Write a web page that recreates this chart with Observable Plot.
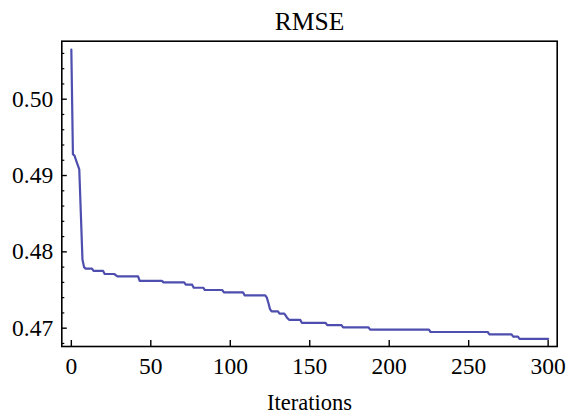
<!DOCTYPE html>
<html><head><meta charset="utf-8">
<script src="https://cdn.jsdelivr.net/npm/d3@7"></script>
<script src="https://cdn.jsdelivr.net/npm/@observablehq/plot@0.6"></script>
<style>body{margin:0;background:#fff;}</style>
</head><body><div id="chart"></div>
<script>
const iterations = [0,1,2,3,4,5,6,7,8,9,13,14,20,21,27,29,42,43,57,58,71,72,76,77,83,84,95,96,108,109,122,123,124,125,126,130,131,134,135,136,137,144,145,160,161,170,171,187,188,225,226,262,263,277,278,281,282,300];
const rmse = [0.5065,0.4928,0.4926,0.4920,0.4914,0.4908,0.4849,0.4790,0.4780,0.4778,0.4778,0.4775,0.4775,0.4771,0.4771,0.4768,0.4768,0.4762,0.4762,0.4760,0.4760,0.4757,0.4757,0.4753,0.4753,0.4750,0.4750,0.4747,0.4747,0.4743,0.4743,0.4740,0.4733,0.4725,0.4722,0.4722,0.4719,0.4719,0.4716,0.4713,0.4711,0.4711,0.4707,0.4707,0.4704,0.4704,0.4701,0.4701,0.4698,0.4698,0.4695,0.4695,0.4692,0.4692,0.4689,0.4689,0.4686,0.4686];
const xTicks = [0,50,100,150,200,250,300];
const yTicks = [0.47,0.48,0.49,0.50];
const yMinorTicks = [0.468,0.472,0.474,0.476,0.478,0.482,0.484,0.486,0.488,0.492,0.494,0.496,0.498,0.502,0.504,0.506];
const titleText = "RMSE";
const xLabelText = "Iterations";

const W = 566, H = 417;
const mL = 61.3, mR = 9.3, mT = 40.7, mB = 71;
const fw = W - mL - mR, fh = H - mT - mB;
const data = iterations.map((it, i) => ({it, v: rmse[i]}));
const font = "'Liberation Serif', 'Times New Roman', serif";

const chart = Plot.plot({
  width: W, height: H,
  marginLeft: mL, marginRight: mR, marginTop: mT, marginBottom: mB,
  style: {fontFamily: font, background: "#fff", color: "#000"},
  x: {domain: [-6, 305.7]},
  y: {domain: [0.4676, 0.5076]},
  marks: [
    Plot.line(data, {x: "it", y: "v", stroke: "#4e4eae", strokeWidth: 2.2}),
    Plot.tickY(yTicks, {y: d => d, stroke: "#000", strokeWidth: 1.4, insetRight: fw - 5.5}),
    Plot.tickY(yMinorTicks, {y: d => d, stroke: "#000", strokeWidth: 1.2, insetRight: fw - 3}),
    Plot.tickX(xTicks, {x: d => d, stroke: "#000", strokeWidth: 1.4, insetTop: fh - 6}),
    Plot.axisY(yTicks, {tickSize: 0, tickPadding: 8.6, tickFormat: d3.format(".2f"), fontSize: 23.5, label: null}),
    Plot.axisX(xTicks, {tickSize: 0, tickPadding: 10.5, fontSize: 23.5, label: null}),
    Plot.frame({stroke: "#000", strokeWidth: 1.6}),
    Plot.text([titleText], {frameAnchor: "top", lineAnchor: "middle", dy: -19.5, fontSize: 25.5, fill: "#000"}),
    Plot.text([xLabelText], {frameAnchor: "bottom", lineAnchor: "middle", dy: 56.5, fontSize: 22.5, fill: "#000"})
  ]
});
document.getElementById("chart").appendChild(chart);
</script>
</body></html>
